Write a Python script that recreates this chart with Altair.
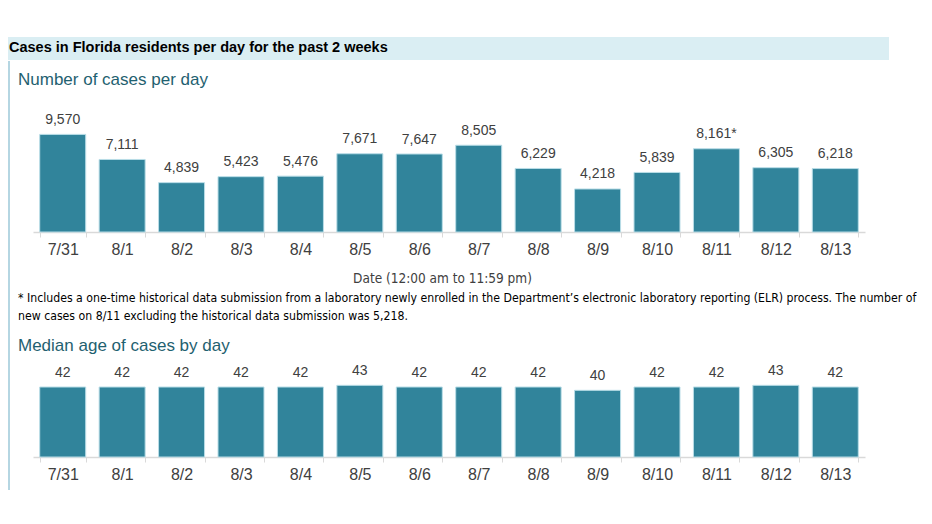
import altair as alt
import pandas as pd

# ---------------- data ----------------
dates = ["7/31", "8/1", "8/2", "8/3", "8/4", "8/5", "8/6",
         "8/7", "8/8", "8/9", "8/10", "8/11", "8/12", "8/13"]
cases = [9570, 7111, 4839, 5423, 5476, 7671, 7647,
         8505, 6229, 4218, 5839, 8161, 6305, 6218]
case_labels = ["9,570", "7,111", "4,839", "5,423", "5,476", "7,671", "7,647",
               "8,505", "6,229", "4,218", "5,839", "8,161*", "6,305", "6,218"]
ages = [42, 42, 42, 42, 42, 43, 42, 42, 42, 40, 42, 42, 43, 42]

header_title = "Cases in Florida residents per day for the past 2 weeks"
cases_title = "Number of cases per day"
age_title = "Median age of cases by day"
x_title = "Date (12:00 am to 11:59 pm)"
footnote_1 = ("* Includes a one-time historical data submission from a laboratory newly enrolled "
              "in the Department\u2019s electronic laboratory reporting (ELR) process. The number of")
footnote_2 = "new cases on 8/11 excluding the historical data submission was 5,218."

# ---------------- style ----------------
TEAL = "#31849b"
EDGE = "#b9dde7"
BAND = "#daeef3"
BORDER = "#9cc8d8"
TITLE_TEAL = "#1f6170"
GRAY = "#404040"
AXIS_GRAY = "#d9d9d9"
SANS = "Liberation Sans, Arial, sans-serif"
NARROW = "DejaVu Sans Condensed, Liberation Sans Narrow, sans-serif"
W = 881

one = pd.DataFrame({"k": [0]})

# ---------------- header panel ----------------
band = alt.Chart(one).mark_rect(color=BAND).encode(
    x=alt.value(0), x2=alt.value(W), y=alt.value(29), y2=alt.value(52))
border = alt.Chart(one).mark_rule(color=BORDER, strokeWidth=1.5).encode(
    x=alt.value(1), y=alt.value(53), y2=alt.value(482))
htext = alt.Chart(one).mark_text(
    text=header_title, align="left", baseline="middle", fontSize=14.5,
    fontWeight="bold", font=SANS, color="#000000").encode(x=alt.value(1), y=alt.value(40))
ctext = alt.Chart(one).mark_text(
    text=cases_title, align="left", baseline="middle", fontSize=17,
    font=SANS, color=TITLE_TEAL).encode(x=alt.value(10), y=alt.value(72))
header = alt.layer(band, border, htext, ctext).properties(width=W, height=122)

# ---------------- chart helpers ----------------
def bar_chart(df, field, label_field, domain, height, title):
    xscale = alt.Scale(domain=dates, range=[25, 857],
                       paddingInner=0.226, paddingOuter=0.113)
    axis_kwargs = dict(
        labelAngle=0, domainColor=AXIS_GRAY, tickColor=AXIS_GRAY, tickSize=5,
        tickBand="extent", labelColor=GRAY, labelFontSize=16, labelFont=SANS,
        labelPadding=4, domainWidth=1.5,
    )
    if title:
        axis = alt.Axis(title=title, titleFont=NARROW, titleFontSize=13.5,
                        titleFontWeight="normal", titleColor=GRAY,
                        titleX=434, titleY=46, titleBaseline="middle",
                        titleAnchor="middle", **axis_kwargs)
    else:
        axis = alt.Axis(title=None, **axis_kwargs)
    base = alt.Chart(df).encode(
        x=alt.X("date:N", sort=dates, scale=xscale, axis=axis))
    bars = base.mark_bar(color=TEAL, stroke=EDGE, strokeWidth=1).encode(
        y=alt.Y(f"{field}:Q", scale=alt.Scale(domain=domain), axis=None))
    labels = base.mark_text(baseline="middle", dy=-14.5, fontSize=14,
                            font=SANS, color=GRAY).encode(
        y=alt.Y(f"{field}:Q"), text=alt.Text(f"{label_field}:N"))
    return alt.layer(bars, labels).properties(width=W, height=height)

df1 = pd.DataFrame({"date": dates, "cases": cases, "label": case_labels})
chart1 = bar_chart(df1, "cases", "label", [0, 10000], 102, x_title)

# ---------------- spacer panel (footnote + second title) ----------------
f1 = alt.Chart(one).mark_text(
    text=footnote_1, align="left", baseline="middle", fontSize=12.2,
    font=NARROW, color="#000000").encode(x=alt.value(10), y=alt.value(66))
f2 = alt.Chart(one).mark_text(
    text=footnote_2, align="left", baseline="middle", fontSize=12.2,
    font=NARROW, color="#000000").encode(x=alt.value(10), y=alt.value(84))
atext = alt.Chart(one).mark_text(
    text=age_title, align="left", baseline="middle", fontSize=17,
    font=SANS, color=TITLE_TEAL).encode(x=alt.value(10), y=alt.value(114))
spacer = alt.layer(f1, f2, atext).properties(width=W, height=150)

df2 = pd.DataFrame({"date": dates, "age": ages, "label": [str(a) for a in ages]})
chart2 = bar_chart(df2, "age", "label", [0, 45], 75, None)

chart = alt.vconcat(header, chart1, spacer, chart2, spacing=0, bounds="flush").properties(
    padding=0).configure_view(strokeWidth=0)

chart.save("out.html", embed_options={"renderer": "svg", "actions": False})
